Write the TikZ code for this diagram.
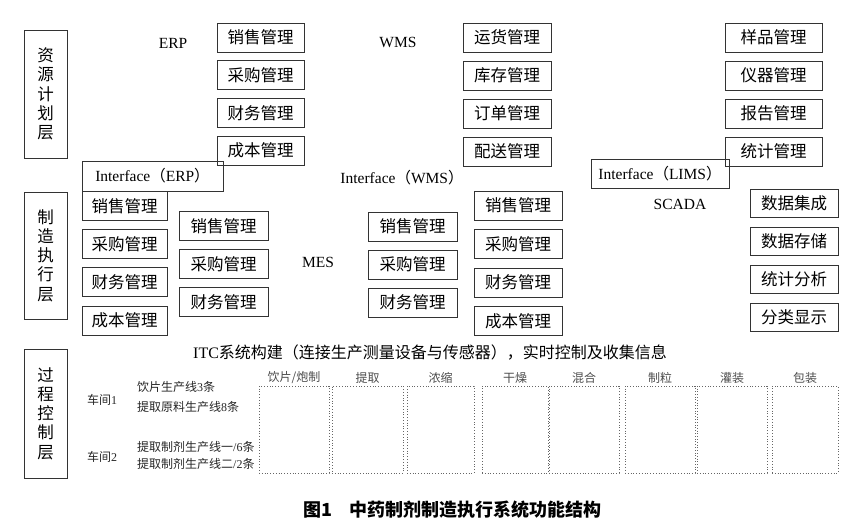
\documentclass[tikz,border=0pt]{standalone}
\usepackage{fontspec}
\setmainfont{Liberation Serif}
\newfontfamily\zh{Noto Sans CJK SC}
\begin{document}
\begin{tikzpicture}[x=1pt, y=-1pt,
    modbox/.style={draw=black!80, line width=0.9pt, minimum height=29, inner sep=0pt,
      font=\zh\fontsize{16.5}{18}\selectfont},
    ifbox/.style={draw=black!80, line width=0.9pt, minimum height=29, inner sep=0pt,
      font=\fontsize{15.5}{18}\selectfont},
    layerbox/.style={draw=black!80, line width=0.9pt, minimum width=43, inner sep=0pt,
      align=center, font=\zh\fontsize{16.5}{19.2}\selectfont},
    sysname/.style={font=\fontsize{15.5}{18}\selectfont},
    small/.style={font=\fontsize{12}{14}\selectfont, text=black!85, inner sep=0pt},
    stagebox/.style={draw=black!60, dotted, line width=0.8pt, minimum height=87, inner sep=0pt},
    stagename/.style={font=\zh\fontsize{12}{14}\selectfont, text=black!70, inner sep=0pt}]
  \useasboundingbox (0,0) rectangle (846,525);
  % layers
  \node[layerbox, minimum height=128] (plan) at (45.5,94) {资\\源\\计\\划\\层};
  \node[layerbox, minimum height=127] (exec) at (45.5,255.5) {制\\造\\执\\行\\层};
  \node[layerbox, minimum height=129] (proc) at (45.5,413.5) {过\\程\\控\\制\\层};
  % ERP, WMS, LIMS
  \node[sysname] (erp) at (173,43) {ERP};
  \node[sysname] (wms) at (398,42) {WMS};
  \foreach \t [count=\i from 0] in {销售管理,采购管理,财务管理,成本管理}
    \node[modbox, minimum width=87] (erp\i) at (260.5,37.5+37.7*\i) {\t};
  \foreach \t [count=\i from 0] in {运货管理,库存管理,订单管理,配送管理}
    \node[modbox, minimum width=88] (wms\i) at (507,37.5+38*\i) {\t};
  \foreach \t [count=\i from 0] in {样品管理,仪器管理,报告管理,统计管理}
    \node[modbox, minimum width=97] (lims\i) at (773.5,37.5+38*\i) {\t};
  \node[ifbox, minimum width=141, minimum height=30] (iferp) at (152.5,176)
    {Interface{\zh（}ERP{\zh）}};
  \node[sysname] (ifwms) at (402,178) {Interface{\zh（}WMS{\zh）}};
  \node[ifbox, minimum width=138] (iflims) at (660,173.5)
    {Interface{\zh（}LIMS{\zh）}};
  % MES, SCADA
  \node[sysname] (mes) at (318,262) {MES};
  \node[sysname] (scada) at (680,204) {SCADA};
  \foreach \t [count=\i from 0] in {销售管理,采购管理,财务管理,成本管理}
    \node[modbox, minimum width=85] (mesa\i) at (124.5,206+38.2*\i) {\t};
  \foreach \t [count=\i from 0] in {销售管理,采购管理,财务管理}
    \node[modbox, minimum width=89] (mesb\i) at (223.5,226+38*\i) {\t};
  \foreach \t [count=\i from 0] in {销售管理,采购管理,财务管理}
    \node[modbox, minimum width=89] (mesc\i) at (412.5,226.5+38*\i) {\t};
  \foreach \t [count=\i from 0] in {销售管理,采购管理,财务管理,成本管理}
    \node[modbox, minimum width=88] (mesd\i) at (518,205.5+38.5*\i) {\t};
  \foreach \t [count=\i from 0] in {数据集成,数据存储,统计分析,分类显示}
    \node[modbox, minimum width=88, minimum height=28] (scd\i) at (794,203+38*\i) {\t};
  % ITC
  \node[anchor=west, inner sep=0pt, font=\fontsize{16}{18}\selectfont] (itc) at (193,353)
    {ITC{\zh 系统构建（连接生产测量设备与传感器），实时控制及收集信息}};
  \node[small, anchor=west] (ws1) at (87,400) {{\zh 车间}1};
  \node[small, anchor=west] (ws2) at (87,457) {{\zh 车间}2};
  \node[small, anchor=west] (ln1) at (137,387) {{\zh 饮片生产线}3{\zh 条}};
  \node[small, anchor=west] (ln2) at (137,407) {{\zh 提取原料生产线}8{\zh 条}};
  \node[small, anchor=west] (ln3) at (137,447) {{\zh 提取制剂生产线一}/6{\zh 条}};
  \node[small, anchor=west] (ln4) at (137,464) {{\zh 提取制剂生产线二}/2{\zh 条}};
  \foreach \l/\r/\t [count=\i] in {259/329/{饮片/炮制},332/403/提取,407/474/浓缩,482/548/干燥,
      549/619/混合,625/695/制粒,697/767/灌装,772/838/包装} {
    \pgfmathsetmacro\w{\r-\l}
    \node[stagebox, minimum width=\w] (st\i) at ({(\l+\r)/2},429.5) {};
    \node[stagename] (sn\i) at ({(\l+\r)/2},378) {\t};
  }
  % caption
  \node[font=\zh\bfseries\fontsize{18}{20}\selectfont] (cap) at (452.5,510) {图1\quad 中药制剂制造执行系统功能结构};
\end{tikzpicture}
\end{document}
